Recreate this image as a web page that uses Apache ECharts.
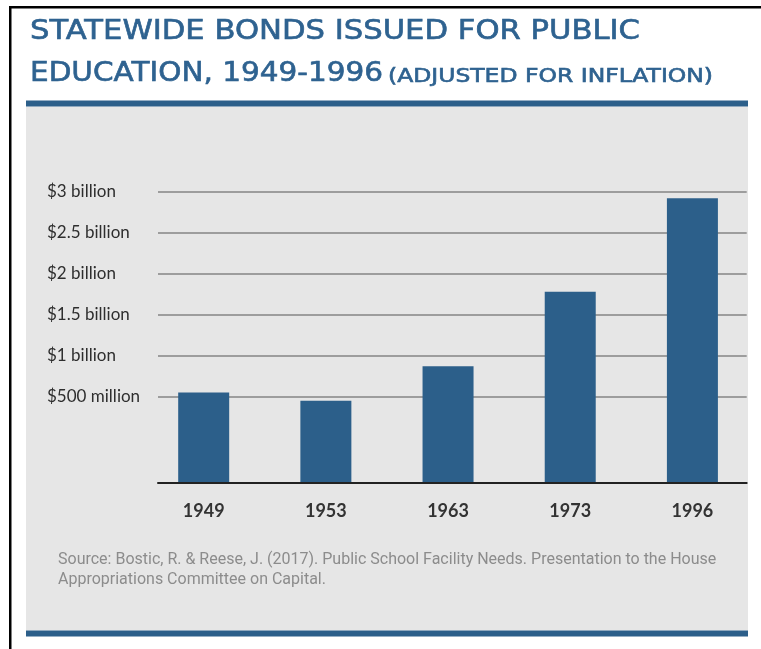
<!DOCTYPE html>
<html>
<head>
<meta charset="utf-8">
<script src="https://cdn.jsdelivr.net/npm/echarts@6/dist/echarts.min.js"></script>
<style>
html,body{margin:0;padding:0;background:#fff;}
#chart{width:761px;height:649px;}
</style>
</head>
<body>
<div id="chart"></div>
<script>
// ---- data ----
const categories = ['1949', '1953', '1963', '1973', '1996'];
const bondValues = [0.55, 0.45, 0.87, 1.78, 2.92]; // billions of dollars (inflation adjusted)
const yTickValues = [0.5, 1, 1.5, 2, 2.5, 3];
const yTickLabels = ['$500 million', '$1 billion', '$1.5 billion', '$2 billion', '$2.5 billion', '$3 billion'];
const titleLine1 = 'STATEWIDE BONDS ISSUED FOR PUBLIC';
const titleLine2 = 'EDUCATION, 1949-1996';
const titleNote = '(ADJUSTED FOR INFLATION)';
const sourceText = 'Source: Bostic, R. & Reese, J. (2017). Public School Facility Needs. Presentation to the House\nAppropriations Committee on Capital.';

// ---- styling ----
const BLUE = '#2c5f8a';
const TITLE_BLUE = '#2e6290';
const AXIS_MIN = -0.544;   // value at the baseline of the original chart
const AXIS_MAX = 3;
const TITLE_FAMILY = '"DejaVu Sans"';

const mctx = document.createElement('canvas').getContext('2d');
function textWidth(t, size) { mctx.font = size + 'px ' + TITLE_FAMILY; return mctx.measureText(t).width; }

const chart = echarts.init(document.getElementById('chart'), null, {renderer: 'canvas'});

function yLabel(v) {
  const i = yTickValues.findIndex(t => Math.abs(t - v) < 1e-6);
  return i >= 0 ? yTickLabels[i] : '';
}

// title piece stretched horizontally to the width it has in the original layout
function titleText(text, x, y, size, targetWidth) {
  const s = targetWidth / textWidth(text, size);
  return {
    type: 'text', x: x, y: y, scaleX: s, z: 10,
    style: {text: text, fontFamily: 'DejaVu Sans', fontSize: size, fontWeight: 'normal',
            fill: TITLE_BLUE, stroke: TITLE_BLUE, lineWidth: 0.6,
            verticalAlign: 'middle', align: 'left'}
  };
}

const option = {
  backgroundColor: '#ffffff',
  animation: false,
  title: [
    {
      left: 58, top: 550, padding: 0,
      text: sourceText,
      textStyle: {fontFamily: 'Roboto', fontSize: 16, fontWeight: 'normal', color: '#8c8c8c', lineHeight: 20}
    }
  ],
  graphic: [
    {type: 'rect', z: -10, shape: {x: 26, y: 106.5, width: 722, height: 524}, style: {fill: '#e6e6e6'}},
    {type: 'rect', z: -9, shape: {x: 26, y: 100.5, width: 722, height: 6}, style: {fill: BLUE}},
    {type: 'rect', z: -9, shape: {x: 26, y: 630.5, width: 722, height: 6}, style: {fill: BLUE}},
    {type: 'rect', z: -9, shape: {x: 9, y: 6, width: 752, height: 2.5}, style: {fill: '#000'}},
    {type: 'rect', z: -9, shape: {x: 9, y: 6, width: 2.5, height: 643}, style: {fill: '#000'}},
    titleText(titleLine1, 30, 32, 26, 610),
    titleText(titleLine2, 30, 74, 26, 353),
    titleText(titleNote, 388, 77, 19, 325)
  ],
  grid: [
    {left: 158, right: 14.3, top: 191.7, bottom: 252.3},
    {left: 142.6, right: 7.5, top: 191.7, bottom: 166.7}
  ],
  xAxis: [
    {
      gridIndex: 0, type: 'category', data: categories, position: 'bottom', offset: 85.6, z: 3,
      axisLine: {show: true, onZero: false, lineStyle: {color: '#222', width: 2}},
      axisTick: {show: false}, axisLabel: {show: false}, splitLine: {show: false}
    },
    {
      gridIndex: 1, type: 'category', data: categories,
      axisLine: {show: false}, axisTick: {show: false},
      axisLabel: {margin: 20, fontFamily: 'Lato', fontWeight: 'bold', fontSize: 18, color: '#333'}
    }
  ],
  yAxis: [
    {
      gridIndex: 0, type: 'value', min: 0.5, max: AXIS_MAX, interval: 0.5,
      axisLine: {show: false}, axisTick: {show: false},
      axisLabel: {align: 'left', margin: 111, fontFamily: 'Lato', fontSize: 17, color: '#2e2e2e',
                  padding: [5, 0, 0, 0], formatter: yLabel},
      splitLine: {show: true, lineStyle: {color: '#858585', width: 1.5}}
    },
    {
      gridIndex: 1, type: 'value', min: AXIS_MIN, max: AXIS_MAX, startValue: AXIS_MIN, show: false,
      splitLine: {show: false}
    }
  ],
  series: [
    {
      type: 'bar', xAxisIndex: 1, yAxisIndex: 1,
      data: bondValues, barWidth: 51,
      itemStyle: {color: BLUE}
    }
  ]
};
chart.setOption(option);
</script>
</body>
</html>
